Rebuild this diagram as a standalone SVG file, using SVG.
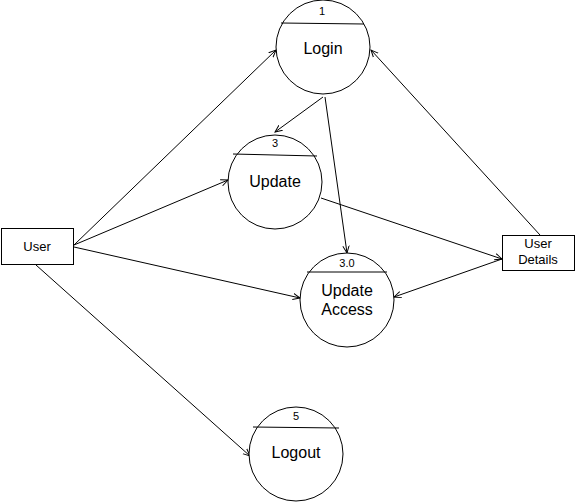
<svg xmlns="http://www.w3.org/2000/svg" width="576" height="502" viewBox="0 0 576 502">
<defs>
<style>
.c{fill:#fff;stroke:#000;stroke-width:1}
.d{stroke:#000;stroke-width:1}
.t{font-family:"Liberation Sans",Arial,sans-serif;fill:#000;text-anchor:middle}
.big{font-size:16px}
.num{font-size:11px}
.box{font-size:13px}
.e{fill:none;stroke:#000;stroke-width:1;marker-end:url(#a)}
</style>
<marker id="a" viewBox="0 0 10 10" refX="9" refY="5" markerWidth="8" markerHeight="8" markerUnits="userSpaceOnUse" orient="auto">
<path d="M0,1 L9,5 L0,9" fill="none" stroke="#000" stroke-width="1.2"/>
</marker>
</defs>
<rect width="576" height="502" fill="#fff"/>
<g id="connectors">
<line class="e" x1="74" y1="245" x2="276" y2="50"/>
<line class="e" x1="74" y1="245" x2="228" y2="180"/>
<line class="e" x1="74" y1="247" x2="300" y2="298"/>
<line class="e" x1="36" y1="265" x2="250" y2="456"/>
<line class="e" x1="323" y1="97" x2="275" y2="132"/>
<line class="e" x1="325" y1="97" x2="347" y2="253"/>
<line class="e" x1="540" y1="235" x2="371" y2="50"/>
<line class="e" x1="321" y1="198" x2="502" y2="259"/>
<line class="e" x1="502" y1="259" x2="394" y2="297"/>
</g>
<g id="login">
<circle class="c" cx="323" cy="47" r="47"/>
<line class="d" x1="281" y1="23" x2="364" y2="24"/>
<text class="t num" x="322" y="15">1</text>
<text class="t big" x="323" y="54">Login</text>
</g>
<g id="update">
<circle class="c" cx="275" cy="182" r="47"/>
<line class="d" x1="233" y1="154" x2="317" y2="156"/>
<text class="t num" x="275" y="147">3</text>
<text class="t big" x="275" y="187">Update</text>
</g>
<g id="update-access">
<circle class="c" cx="347" cy="300" r="47"/>
<line class="d" x1="307" y1="272" x2="387" y2="272"/>
<text class="t num" x="347" y="267">3.0</text>
<text class="t big" x="347" y="296">Update</text>
<text class="t big" x="347" y="315">Access</text>
</g>
<g id="logout">
<circle class="c" cx="296" cy="454" r="47"/>
<line class="d" x1="253" y1="427" x2="339" y2="428"/>
<text class="t num" x="296" y="420">5</text>
<text class="t big" x="296" y="458">Logout</text>
</g>
<g id="user">
<rect class="c" x="1.5" y="228.5" width="72" height="36"/>
<text class="t box" x="37" y="251">User</text>
</g>
<g id="user-details">
<rect class="c" x="502.5" y="235.5" width="72" height="35"/>
<text class="t box" x="538" y="248">User</text>
<text class="t box" x="538" y="264">Details</text>
</g>
</svg>
